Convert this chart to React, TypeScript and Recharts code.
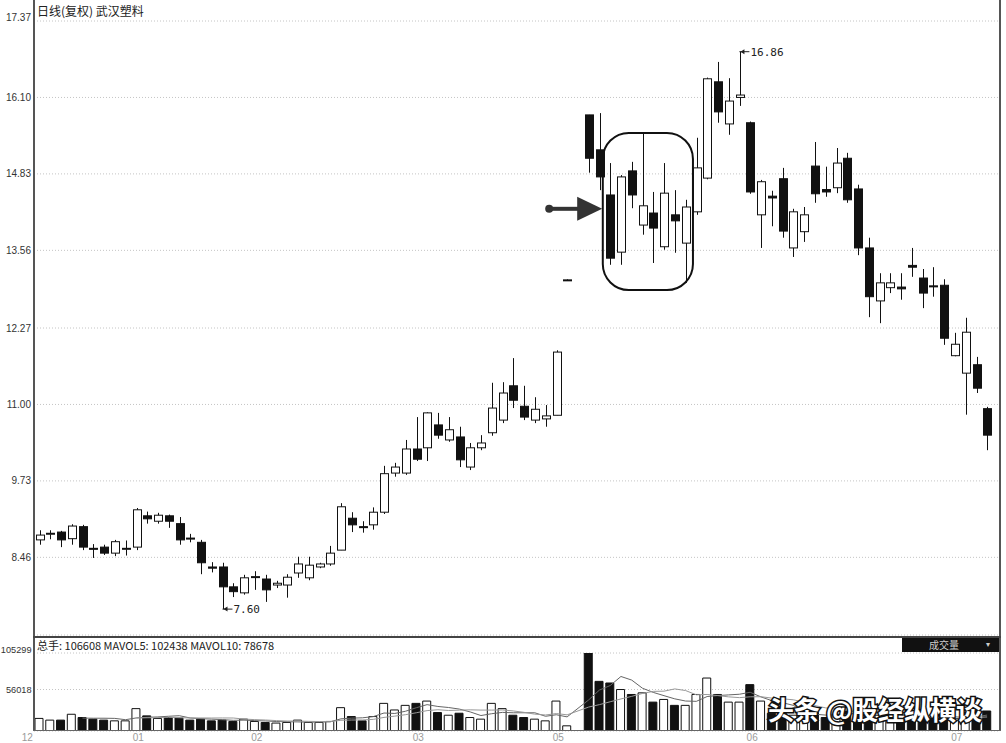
import {
  ComposedChart,
  Bar,
  Line,
  XAxis,
  YAxis,
  CartesianGrid,
  Cell,
  ReferenceDot,
  ReferenceArea,
} from "recharts";

// month labels on the time axis and the slot where each month starts
const monthLabels = ["12", "01", "02", "03", "05", "06", "07"];
const monthStart = [0, 9, 20, 35, 48, 66, 85];

const priceTicks = [7.17, 8.46, 9.73, 11.0, 12.27, 13.56, 14.83, 16.1, 17.37];
const volumeTicks = [56018, 105299];

// daily prices (slot 50 is a day without trading)
const open = [
  8.75, 8.85, 8.88, 8.77, 8.97, 8.61, 8.63, 8.53, 8.6, 8.63,
  9.15, 9.06, 9.15, 9.02, 8.78, 8.71, 8.3, 8.3, 7.97, 7.87,
  8.13, 8.1, 8.0, 8.0, 8.2, 8.12, 8.3, 8.35, 8.58, 9.11,
  8.97, 9.0, 9.21, 9.86, 9.86, 10.26, 10.28, 10.66, 10.41, 10.46,
  9.96, 10.28, 10.53, 10.74, 11.31, 10.97, 10.74, 10.76, 10.82, 13.07,
  null, 15.81, 15.23, 14.48, 13.53, 14.88, 13.98, 14.18, 13.62, 14.15,
  13.68, 14.2, 14.76, 16.36, 15.66, 16.1, 15.68, 14.15, 14.46, 14.75,
  13.6, 13.87, 14.96, 14.57, 14.6, 15.09, 14.58, 13.6, 12.72, 12.94,
  12.95, 13.31, 13.1, 12.97, 12.98, 11.81, 11.52, 11.66, 10.93,
];
const high = [
  8.91, 8.91, 8.9, 9.01, 9.0, 8.68, 8.67, 8.75, 8.74, 9.28,
  9.22, 9.2, 9.17, 9.13, 8.85, 8.75, 8.38, 8.37, 8.03, 8.17,
  8.23, 8.17, 8.07, 8.18, 8.47, 8.47, 8.37, 8.65, 9.36, 9.21,
  9.06, 9.29, 9.98, 10.03, 10.41, 10.79, 10.87, 10.86, 10.79, 10.63,
  10.36, 10.49, 11.36, 11.37, 11.77, 11.31, 11.12, 10.99, 11.9, 13.08,
  null, 15.81, 15.84, 15.01, 14.81, 15.03, 15.51, 14.53, 15.01, 14.56,
  14.4, 15.43, 16.43, 16.69, 16.42, 16.86, 15.7, 14.73, 14.55, 14.93,
  14.25, 14.28, 15.36, 14.95, 15.26, 15.18, 14.65, 13.77, 13.18, 13.18,
  13.18, 13.6, 13.25, 13.28, 13.08, 12.19, 12.44, 11.79, 10.96,
];
const low = [
  8.67, 8.76, 8.63, 8.67, 8.58, 8.45, 8.5, 8.48, 8.49, 8.58,
  9.02, 9.02, 8.95, 8.67, 8.71, 8.18, 8.21, 7.6, 7.8, 7.84,
  7.92, 7.72, 7.95, 7.79, 8.12, 8.08, 8.28, 8.32, 8.58, 8.88,
  8.87, 8.92, 9.18, 9.8, 9.83, 10.06, 10.06, 10.43, 10.38, 9.96,
  9.91, 10.24, 10.48, 10.69, 10.94, 10.74, 10.69, 10.63, 10.82, 13.06,
  null, 14.85, 14.56, 13.32, 13.32, 14.26, 13.82, 13.35, 13.57, 13.52,
  13.02, 14.15, 14.74, 15.68, 15.48, 15.96, 14.5, 13.6, 13.96, 13.77,
  13.45, 13.7, 14.35, 14.45, 14.51, 14.35, 13.48, 12.45, 12.35, 12.85,
  12.74, 13.12, 12.6, 12.79, 11.99, 11.8, 10.83, 11.19, 10.24,
];
const close = [
  8.83, 8.86, 8.75, 8.98, 8.63, 8.6, 8.53, 8.72, 8.61, 9.25,
  9.1, 9.16, 9.06, 8.75, 8.77, 8.37, 8.28, 7.97, 7.89, 8.12,
  8.14, 7.92, 8.03, 8.13, 8.35, 8.33, 8.35, 8.53, 9.3, 9.0,
  8.96, 9.21, 9.85, 9.96, 10.26, 10.09, 10.86, 10.49, 10.58, 10.08,
  10.28, 10.36, 10.94, 11.19, 11.07, 10.79, 10.92, 10.81, 11.87, 13.07,
  null, 15.09, 14.78, 13.43, 14.78, 14.48, 14.3, 13.93, 14.51, 14.05,
  14.28, 14.93, 16.41, 15.86, 16.04, 16.14, 14.53, 14.7, 14.43, 13.88,
  14.2, 14.15, 14.5, 14.53, 15.01, 14.4, 13.6, 12.79, 13.02, 13.02,
  12.92, 13.28, 12.85, 12.96, 12.1, 12.0, 12.2, 11.27, 10.49,
];
const volume = [
  17000, 14700, 14700, 22600, 18200, 16000, 14700, 13700, 13700, 30200,
  20400, 17000, 18200, 17500, 14700, 16000, 13700, 14700, 12900, 16000,
  12900, 11500, 10700, 11500, 14700, 11500, 11500, 12900, 31500, 19500,
  13700, 19500, 37300, 28400, 34600, 37300, 40400, 24900, 21300, 24000,
  18200, 16000, 37300, 30200, 21300, 18200, 16000, 13700, 40400, 7000,
  null, 106608, 67000, 64800, 56000, 49300, 51500, 39000, 42600, 34600,
  34600, 49300, 71500, 49300, 39000, 39000, 62600, 40400, 24000, 24900,
  21300, 18200, 24900, 18200, 22600, 27000, 29300, 24900, 21300, 18200,
  16000, 13700, 18200, 16000, 19500, 16900, 22600, 21300, 27000,
];

// annotations
const arrowAt = { slot: 53, price: 14.25 };
const box = { from: 53, to: 60, low: 12.9, high: 15.51 };

const movingAvg = (n: number) =>
  volume.map((v, i) => {
    if (v == null || i < n - 1) return null;
    const w = volume.slice(i - n + 1, i + 1).filter((x) => x != null) as number[];
    return w.reduce((a, b) => a + b, 0) / w.length;
  });
const ma5 = movingAvg(5);
const ma10 = movingAvg(10);

const rows = open.map((o, i) => ({
  i,
  open: o,
  high: high[i],
  low: low[i],
  close: close[i],
  range: o == null ? null : [low[i], high[i]],
  vol: volume[i],
  ma5: ma5[i],
  ma10: ma10[i],
}));

const lows = low.filter((v) => v != null) as number[];
const highs = high.filter((v) => v != null) as number[];
const minLow = Math.min(...lows);
const maxHigh = Math.max(...highs);
const minSlot = low.indexOf(minLow);
const maxSlot = high.indexOf(maxHigh);

const FONT = "'Liberation Sans', Arial, sans-serif";
const CJK = "'Noto Sans CJK SC', sans-serif";
const INK = "#111";

const Candle = (props: any) => {
  const { x, y, width, height, payload } = props;
  if (!payload || payload.range == null) return null;
  const { open: o, close: c, high: h, low: l } = payload;
  const top = Math.min(y, y + height);
  const bot = Math.max(y, y + height);
  const span = h - l || 1;
  const py = (v: number) => top + ((h - v) / span) * (bot - top);
  const cx = Math.round(x + width / 2) + 0.5;
  const up = c >= o;
  const bTop = py(Math.max(o, c));
  const bBot = py(Math.min(o, c));
  return (
    <g>
      <line x1={cx} x2={cx} y1={top} y2={bot} stroke={INK} strokeWidth={1} />
      <rect
        x={cx - 4}
        y={bTop}
        width={8}
        height={Math.max(bBot - bTop, 1)}
        fill={up ? "#fff" : INK}
        stroke={INK}
        strokeWidth={1}
      />
    </g>
  );
};

const PriceMark = ({ cx, cy, text }: any) => (
  <g>
    <line x1={cx} x2={cx + 10} y1={cy} y2={cy} stroke="#222" strokeWidth={1} />
    <path d={`M${cx + 1},${cy} l4,-2.5 v5 z`} fill="#222" />
    <text x={cx + 11} y={cy + 4} fontSize={11} fontFamily="'DejaVu Sans Mono', monospace" fill="#222">
      {text}
    </text>
  </g>
);

const Arrow = ({ cx, cy }: any) => (
  <g>
    <circle cx={cx - 61} cy={cy} r={4} fill="#333" />
    <line x1={cx - 61} x2={cx - 30} y1={cy} y2={cy} stroke="#333" strokeWidth={4} />
    <path d={`M${cx - 33},${cy - 12} L${cx - 8},${cy} L${cx - 33},${cy + 12} Z`} fill="#333" />
  </g>
);

const RoundBox = (p: any) => (
  <rect
    x={p.x - 2}
    y={p.y}
    width={p.width + 4}
    height={p.height}
    rx={26}
    ry={26}
    fill="none"
    stroke={INK}
    strokeWidth={2}
  />
);

const PriceTick = ({ x, y, payload }: any) => (
  <text
    x={x}
    y={y + 3.5 + (payload.value === 17.37 ? -4 : 0)}
    textAnchor="end"
    fontSize={10}
    fontFamily={FONT}
    fill="#333"
  >
    {payload.value.toFixed(2)}
  </text>
);

const VolTick = ({ x, y, payload }: any) => (
  <text
    x={x + 0.5}
    y={y + 3.5 + (payload.value === 105299 ? -4 : 0)}
    textAnchor="end"
    fontSize={9.2}
    fontFamily={FONT}
    fill="#333"
  >
    {payload.value}
  </text>
);

const MonthTick = ({ x, y, payload }: any) => {
  const k = monthStart.indexOf(payload.value);
  if (k < 0) return null;
  const dx = payload.value === 0 ? -12 : 2;
  return (
    <text x={x + dx} y={y + 10} textAnchor="middle" fontSize={10} fontFamily={FONT} fill="#9a9a9a">
      {monthLabels[k]}
    </text>
  );
};

const abs = (left: number, top: number, extra: any = {}) => ({
  position: "absolute" as const,
  left,
  top,
  ...extra,
});

export default function App() {
  return (
    <div style={abs(0, 0, { width: 1006, height: 743, background: "#fff", overflow: "hidden" })}>
      <div style={abs(0, 0)}>
        <ComposedChart width={1006} height={637} data={rows} margin={{ top: 21, right: 6, bottom: 2, left: 0 }}>
          <CartesianGrid horizontal vertical={false} stroke="#c4c4c4" strokeDasharray="1 2" />
          <XAxis dataKey="i" type="category" hide padding={{ left: 0, right: 7.5 }} />
          <YAxis
            domain={[7.17, 17.37]}
            ticks={priceTicks}
            width={34}
            tickSize={1}
            tickMargin={2}
            tickLine={false}
            axisLine={{ stroke: "#555", strokeWidth: 2 }}
            tick={<PriceTick />}
            allowDataOverflow
          />
          <ReferenceArea x1={box.from} x2={box.to} y1={box.low} y2={box.high} shape={(p: any) => <RoundBox {...p} />} />
          <Bar dataKey="range" isAnimationActive={false} shape={(p: any) => <Candle {...p} />} />
          <ReferenceDot x={minSlot} y={minLow} shape={(p: any) => <PriceMark {...p} text={minLow.toFixed(2)} />} />
          <ReferenceDot x={maxSlot} y={maxHigh} shape={(p: any) => <PriceMark {...p} text={maxHigh.toFixed(2)} />} />
          <ReferenceDot x={arrowAt.slot} y={arrowAt.price} shape={(p: any) => <Arrow {...p} />} />
        </ComposedChart>
      </div>

      <div style={abs(0, 637)}>
        <ComposedChart width={1006} height={106} data={rows} margin={{ top: 16, right: 6, bottom: 0, left: 0 }}>
          <CartesianGrid horizontal vertical={false} stroke="#c4c4c4" strokeDasharray="1 2" />
          <XAxis
            dataKey="i"
            type="category"
            padding={{ left: 0, right: 7.5 }}
            ticks={monthStart}
            interval={0}
            height={12}
            tickSize={0}
            tickMargin={0}
            axisLine={false}
            tick={<MonthTick />}
          />
          <YAxis
            domain={[0, 105299]}
            ticks={volumeTicks}
            width={34}
            tickSize={1}
            tickMargin={2}
            tickLine={false}
            axisLine={{ stroke: "#555", strokeWidth: 2 }}
            tick={<VolTick />}
            allowDataOverflow
          />
          <Bar dataKey="vol" barSize={8} isAnimationActive={false} stroke={INK} strokeWidth={1}>
            {rows.map((r, i) => (
              <Cell key={i} fill={r.close != null && r.close >= (r.open as number) ? "#fff" : INK} />
            ))}
          </Bar>
          <Line dataKey="ma5" stroke="#666" strokeWidth={1} dot={false} connectNulls isAnimationActive={false} />
          <Line dataKey="ma10" stroke="#999" strokeWidth={1} dot={false} connectNulls isAnimationActive={false} />
        </ComposedChart>
      </div>

      {/* frame */}
      <div style={abs(33, 0, { width: 2, height: 731, background: "#555" })} />
      <div style={abs(999, 0, { width: 2, height: 731, background: "#555" })} />
      <div style={abs(33, 636, { width: 968, height: 2, background: "#444" })} />
      <div style={abs(33, 730, { width: 968, height: 1, background: "#666" })} />

      <div style={abs(37, 2, { fontFamily: CJK, fontSize: 12, color: "#222", whiteSpace: "nowrap" })}>
        日线(复权) 武汉塑料
      </div>
      <div style={abs(37, 638, { fontFamily: CJK, fontSize: 11, color: "#222", whiteSpace: "nowrap", lineHeight: "14px" })}>
        总手: 106608 MAVOL5: 102438 MAVOL10: 78678
      </div>
      <div style={abs(902, 638, { width: 97, height: 14, background: "#111" })}>
        <span style={abs(27, 0, { fontFamily: CJK, fontSize: 10, color: "#ccc", lineHeight: "14px" })}>成交量</span>
        <span style={abs(84, 0, { fontFamily: FONT, fontSize: 8, color: "#ccc", lineHeight: "14px" })}>▾</span>
      </div>

      <svg style={abs(760, 690)} width={240} height={40}>
        <text
          x={8}
          y={30}
          fontSize={26}
          fontFamily={CJK}
          fontWeight={700}
          fill="#fff"
          stroke="#111"
          strokeWidth={3}
          paintOrder="stroke"
        >
          头条 @股经纵横谈
        </text>
      </svg>
    </div>
  );
}
